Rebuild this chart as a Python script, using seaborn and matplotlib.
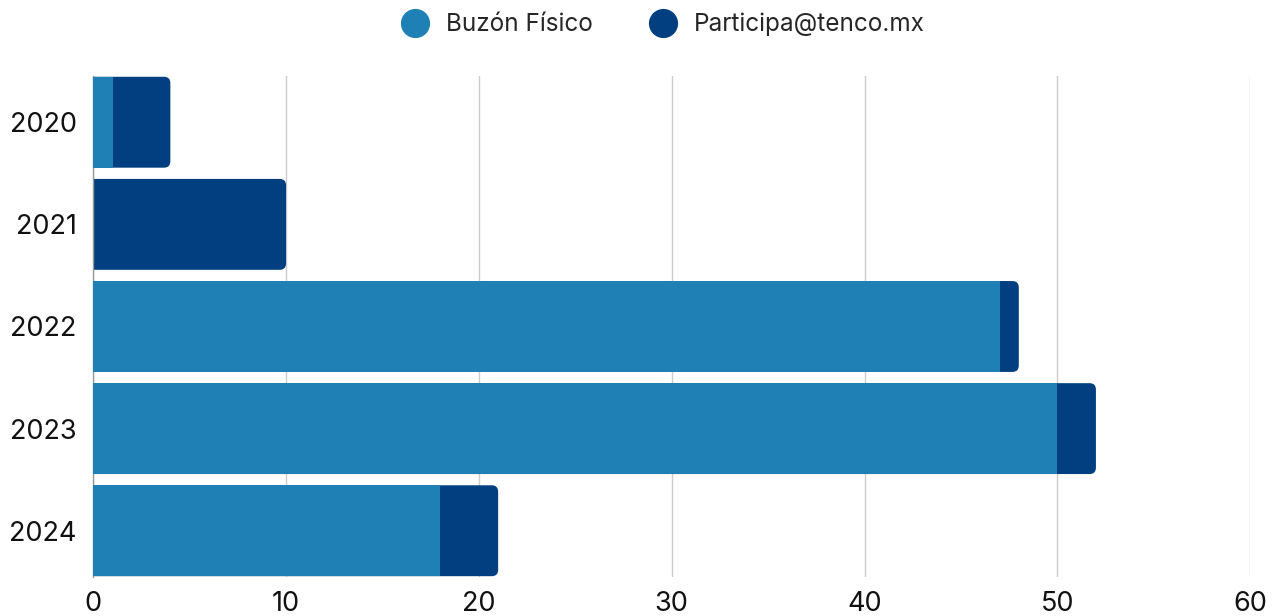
import matplotlib
matplotlib.use('Agg')
import matplotlib.pyplot as plt
from matplotlib.patches import FancyBboxPatch
from matplotlib.lines import Line2D
import seaborn as sns
import pandas as pd

# Data
years = ['2020', '2021', '2022', '2023', '2024']
buzon = [1, 0, 47, 50, 18]
participa = [3, 10, 1, 2, 3]

light = '#1E80B4'
dark = '#023F80'

sns.set_theme(style='white')
plt.rcParams['font.family'] = ['Inter', 'DejaVu Sans']

df = pd.DataFrame({'year': years, 'buzon': buzon,
                   'total': [b + p for b, p in zip(buzon, participa)]})

fig, ax = plt.subplots(figsize=(12.77, 6.16), dpi=100)
fig.subplots_adjust(left=0.073, right=0.979, top=0.877, bottom=0.063)

# total (dark) first, then the physical mailbox part on top
sns.barplot(data=df, y='year', x='total', color=dark, orient='h', width=0.89,
            saturation=1, linewidth=0, ax=ax, zorder=2)
n = len(ax.patches)
sns.barplot(data=df, y='year', x='buzon', color=light, orient='h', width=0.89,
            saturation=1, linewidth=0, ax=ax, zorder=3)

# rounded right end on the dark bars
for p in ax.patches[:n]:
    x, y = p.get_x(), p.get_y()
    w, h = p.get_width(), p.get_height()
    p.set_visible(False)
    fb = FancyBboxPatch((x - 1, y), w + 1, h,
                        boxstyle='round,pad=0,rounding_size=0.33',
                        mutation_aspect=0.19, fc=dark, ec='none', zorder=2)
    ax.add_patch(fb)

ax.set_xlim(0, 60)
ax.set_xticks(range(0, 61, 10))
ax.set_ylim(4.455, -0.455)
ax.set_xlabel('')
ax.set_ylabel('')
ax.grid(axis='x', color='#cccccc', linewidth=1, zorder=0)
ax.set_axisbelow(True)
for s in ['top', 'right', 'bottom']:
    ax.spines[s].set_visible(False)
ax.spines['left'].set_color('#999999')
ax.spines['left'].set_linewidth(1)
ax.tick_params(axis='x', length=0, pad=10, labelsize=19.5, colors='#111111')
ax.tick_params(axis='y', length=0, pad=12, labelsize=19.5, colors='#111111')

handles = [Line2D([], [], marker='o', linestyle='', markersize=20, color=light),
           Line2D([], [], marker='o', linestyle='', markersize=20, color=dark)]
fig.legend(handles, ['Buzón Físico', 'Participa@tenco.mx'], loc='upper center',
           bbox_to_anchor=(0.515, 1.015), ncol=2, frameon=False, fontsize=17.5,
           handletextpad=0.25, columnspacing=1.9)

fig.savefig('out.png', dpi=100)
